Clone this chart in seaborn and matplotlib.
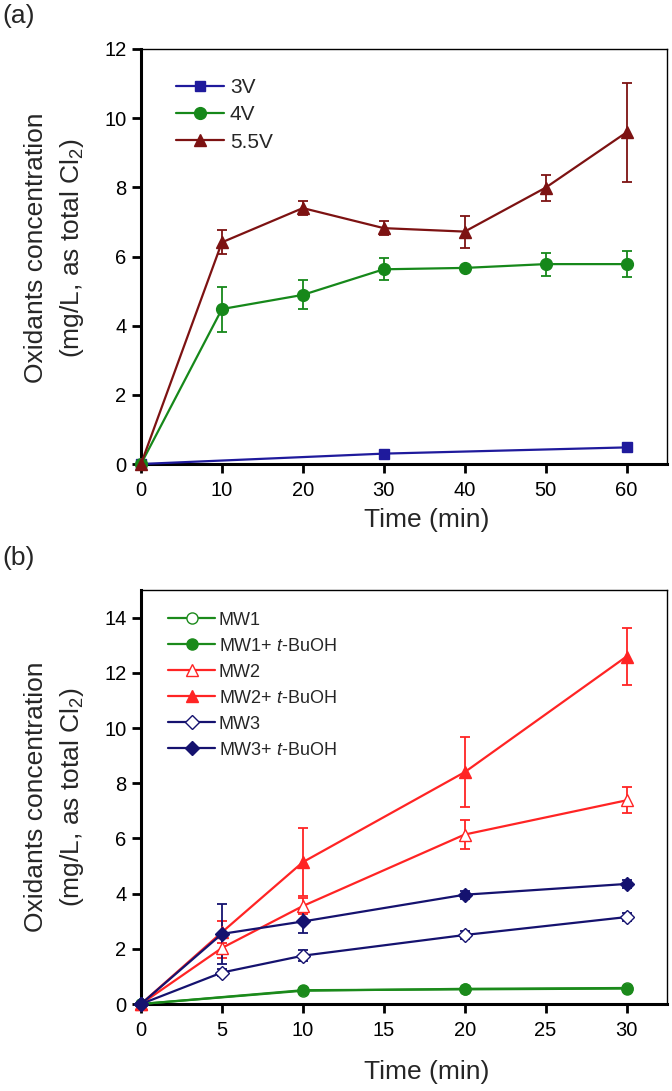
import numpy as np
import pandas as pd
import matplotlib
matplotlib.use("Agg")
import matplotlib.pyplot as plt
import seaborn as sns

# ---------------- data ----------------
# panel (a)
time_a = [0, 10, 20, 30, 40, 50, 60]
t3v = [0, 30, 60]
v3v = [0.0, 0.30, 0.48]
e3v = [0.0, 0.04, 0.05]
v4v = [0.0, 4.48, 4.89, 5.63, 5.67, 5.78, 5.78]
e4v = [0.0, 0.65, 0.42, 0.32, 0.05, 0.33, 0.38]
v55v = [0.0, 6.41, 7.40, 6.82, 6.72, 7.99, 9.59]
e55v = [0.0, 0.35, 0.20, 0.20, 0.46, 0.38, 1.44]
labels_a = ["3V", "4V", "5.5V"]

# panel (b)
time_b = [0, 5, 10, 20, 30]
time_mw1 = [0, 10, 20, 30]
mw1 = [0.0, 0.48, 0.55, 0.58]
e_mw1 = [0.0, 0.04, 0.04, 0.04]
mw1_t = [0.0, 0.50, 0.53, 0.56]
e_mw1_t = [0.0, 0.05, 0.05, 0.05]
mw2 = [0.0, 2.03, 3.55, 6.14, 7.38]
e_mw2 = [0.0, 0.35, 0.30, 0.53, 0.47]
mw2_t = [0.0, 2.60, 5.14, 8.40, 12.59]
e_mw2_t = [0.0, 0.40, 1.22, 1.28, 1.05]
mw3 = [0.0, 1.14, 1.75, 2.50, 3.15]
e_mw3 = [0.0, 0.12, 0.20, 0.15, 0.15]
mw3_t = [0.0, 2.54, 2.99, 3.96, 4.35]
e_mw3_t = [0.0, 1.10, 0.40, 0.15, 0.15]
labels_b = ["MW1", r"MW1+ $\mathit{t}$-BuOH", "MW2", r"MW2+ $\mathit{t}$-BuOH",
            "MW3", r"MW3+ $\mathit{t}$-BuOH"]

# ---------------- style ----------------
sns.set_style("ticks")
plt.rcParams["font.family"] = ["Liberation Sans", "DejaVu Sans"]
plt.rcParams["mathtext.fontset"] = "custom"
plt.rcParams["mathtext.rm"] = "Liberation Sans"
plt.rcParams["mathtext.it"] = "Liberation Sans:italic"
plt.rcParams["mathtext.default"] = "regular"

fig = plt.figure(figsize=(6.72, 10.91), dpi=100)
W, H = 672, 1091
ax1 = fig.add_axes([141 / W, 1 - 464 / H, (667 - 141) / W, (464 - 49) / H])
ax2 = fig.add_axes([141 / W, 1 - 1004 / H, (667 - 141) / W, (1004 - 590) / H])


def series(ax, x, y, e, color, marker, ms, label, mfc=None):
    df = pd.DataFrame({"x": x, "y": y})
    ax.errorbar(x, y, yerr=e, fmt="none", ecolor=color, elinewidth=1.3,
                capsize=3.5, capthick=1.3, zorder=2, clip_on=False)
    sns.lineplot(data=df, x="x", y="y", ax=ax, color=color, marker=marker,
                 markersize=ms, markeredgecolor=color, markeredgewidth=1.0,
                 markerfacecolor=(mfc if mfc else color), linewidth=1.6,
                 label=label, clip_on=False, zorder=3, errorbar=None,
                 sort=False)


blue_a = "#1f1a9c"
green_a = "#16881a"
maroon = "#7d1212"
series(ax1, t3v, v3v, e3v, blue_a, "s", 7, labels_a[0])
series(ax1, time_a, v4v, e4v, green_a, "o", 8.5, labels_a[1])
series(ax1, time_a, v55v, e55v, maroon, "^", 9, labels_a[2])

green_b = "#1b8a1b"
red_b = "#ff2424"
navy_b = "#15126f"
series(ax2, time_mw1, mw1, e_mw1, green_b, "o", 8, labels_b[0], mfc="white")
series(ax2, time_mw1, mw1_t, e_mw1_t, green_b, "o", 8, labels_b[1])
series(ax2, time_b, mw2, e_mw2, red_b, "^", 9, labels_b[2], mfc="white")
series(ax2, time_b, mw2_t, e_mw2_t, red_b, "^", 9, labels_b[3])
series(ax2, time_b, mw3, e_mw3, navy_b, "D", 7, labels_b[4], mfc="white")
series(ax2, time_b, mw3_t, e_mw3_t, navy_b, "D", 7, labels_b[5])

ax1.set_xlim(0, 65)
ax1.set_ylim(0, 12)
ax1.set_xticks(np.arange(0, 61, 10))
ax1.set_yticks(np.arange(0, 13, 2))
ax2.set_xlim(0, 32.5)
ax2.set_ylim(0, 15)
ax2.set_xticks(np.arange(0, 31, 5))
ax2.set_yticks(np.arange(0, 15, 2))

ylab = "Oxidants concentration\n(mg/L, as total Cl$_2$)"
for ax in (ax1, ax2):
    for s in ("left", "bottom"):
        ax.spines[s].set_linewidth(2.2)
        ax.spines[s].set_color("black")
    for s in ("top", "right"):
        ax.spines[s].set_visible(True)
        ax.spines[s].set_linewidth(1.0)
        ax.spines[s].set_color("black")
    ax.tick_params(direction="out", length=6.5, width=2, labelsize=14.5,
                   top=False, right=False, colors="black")
    ax.tick_params(axis="x", pad=6)
    ax.tick_params(axis="y", pad=4)
    ax.set_xlabel("Time (min)", fontsize=19)
    ax.set_ylabel(ylab, fontsize=19, linespacing=1.45)

ax1.xaxis.set_label_coords(0.544, -0.105)
ax2.xaxis.set_label_coords(0.544, -0.135)
ax1.yaxis.set_label_coords(-0.105, 0.52)
ax2.yaxis.set_label_coords(-0.105, 0.5)

leg1 = ax1.legend(loc="upper left", bbox_to_anchor=(0.066, 0.93), frameon=False,
                  fontsize=15, handlelength=2.3, handletextpad=0.3,
                  labelspacing=0.4, borderpad=0, borderaxespad=0)
leg2 = ax2.legend(loc="upper left", bbox_to_anchor=(0.052, 0.948), frameon=False,
                  fontsize=13, handlelength=2.6, handletextpad=0.2,
                  labelspacing=0.5, borderpad=0, borderaxespad=0)

fig.text(0.003, 1 - 4 / H, "(a)", fontsize=19, ha="left", va="top")
fig.text(0.003, 1 - 546 / H, "(b)", fontsize=19, ha="left", va="top")

fig.savefig("out.png", dpi=100)
